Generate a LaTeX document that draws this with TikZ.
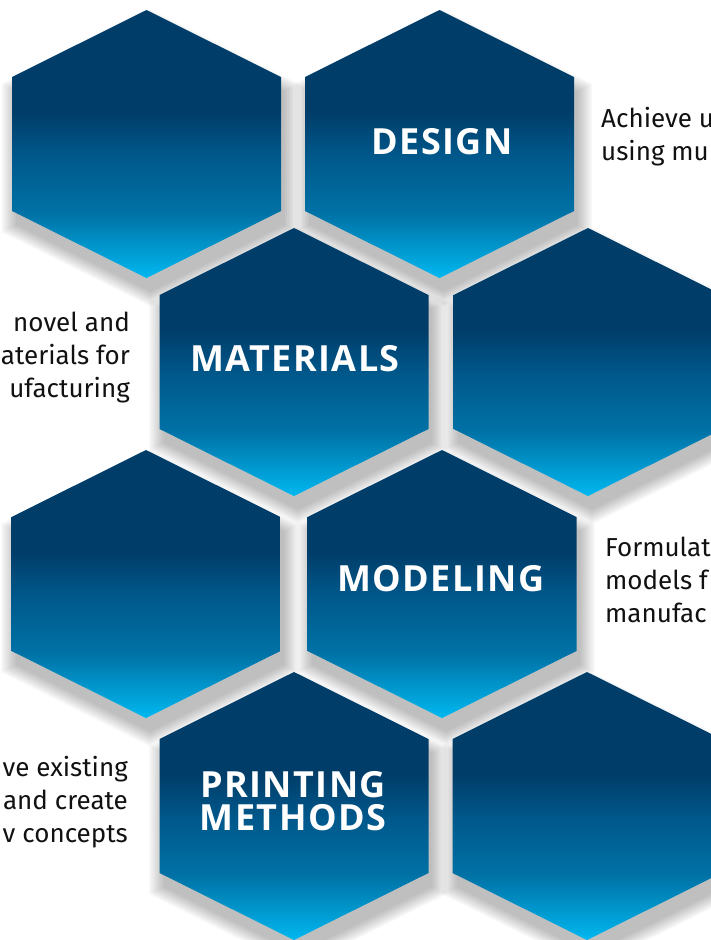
\documentclass[tikz,border=0pt]{standalone}
\usepackage{fontspec}
\setmainfont{Fira Sans}
\newfontfamily\labelfont[LetterSpace=4]{Open Sans}

\definecolor{hexdark}{HTML}{003D69}
\definecolor{hexmid}{HTML}{00578A}
\definecolor{hexlow}{HTML}{0072A6}
\definecolor{hexlight}{HTML}{00B8F0}
\definecolor{sidetext}{HTML}{111111}
\pgfdeclareverticalshading{hexshade}{100bp}{color(0bp)=(hexlight); color(25bp)=(hexlight); color(37bp)=(hexlow); color(48bp)=(hexmid); color(56bp)=(hexdark); color(100bp)=(hexdark)}

\tikzset{
  hexshadow/.style={fill=black, opacity=0.035},
  hexlabel/.style={text=white, font=\fontsize{36}{33}\selectfont\labelfont\bfseries, align=center, inner sep=0pt},
  side/.style={text=sidetext, font=\fontsize{26}{33}\selectfont, inner sep=0pt}
}
\newcommand{\hexpath}{(0,-134) -- (134.5,-67) -- (134.5,67) -- (0,134) -- (-134.5,67) -- (-134.5,-67) -- cycle}
% one hexagon with its soft shadow, centre (#1,#2)
\newcommand{\hexcell}[2]{%
  \foreach \e in {0,2,...,14}{
    \path[hexshadow, shift={(#1+4,#2+14)}, scale={1+\e/134}] \hexpath;}
  \shade[shading=hexshade, shift={(#1,#2)}] \hexpath;}

\begin{document}
\begin{tikzpicture}[x=1pt, y=-1pt]
	\useasboundingbox (0,0) rectangle (710,940);
	% row 1
	\hexcell{146.5}{144}
	\hexcell{439.5}{144}
	% row 2
	\hexcell{294}{362}
	\hexcell{588}{362}
	% row 3
	\hexcell{146}{584}
	\hexcell{442}{584}
	% row 4
	\hexcell{294}{806}
	\hexcell{587}{806}

	\node[hexlabel] (design) at (442,142) {DESIGN};
	\node[hexlabel] (materials) at (295,359) {MATERIALS};
	\node[hexlabel] (modeling) at (441,579) {MODELING};
	\node[hexlabel] (printing) at (293,801) {PRINTING\\METHODS};

	\node[side, anchor=base west, align=left] (designtxt) at (601,160) {Achieve u\\using mu};
	\node[side, anchor=base east, align=right] (materialstxt) at (130,397) {novel and\\aterials for\\ufacturing};
	\node[side, anchor=base west, align=left] (modelingtxt) at (605,622) {Formulat\\models f\\manufac};
	\node[side, anchor=base east, align=right] (printingtxt) at (128,842) {ve existing\\and create\\v concepts};
\end{tikzpicture}
\end{document}
